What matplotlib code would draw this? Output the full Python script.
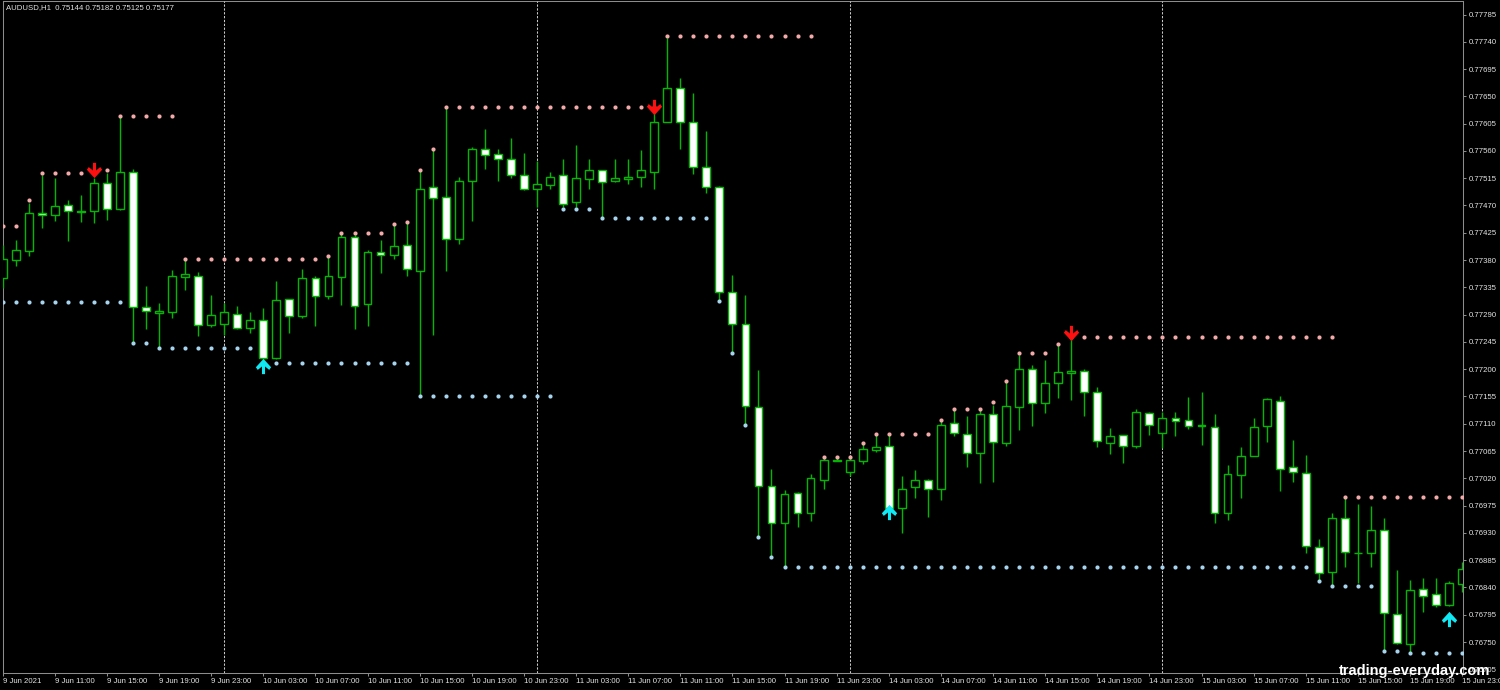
import numpy as np
import matplotlib
matplotlib.use("Agg")
import matplotlib.pyplot as plt
from matplotlib.path import Path

plt.rcParams["font.family"] = ["Liberation Sans", "DejaVu Sans"]

PT = 1e-5  # one MT4 point, prices below are in points

# AUDUSD H1, bar 0 = 9 Jun 07:00
OPEN = [77350, 77380, 77395, 77457, 77455, 77470, 77461, 77461, 77507, 77465,
        77526, 77302, 77293, 77295, 77352, 77354, 77273, 77274, 77291, 77268,
        77281, 77218, 77315, 77287, 77351, 77321, 77352, 77418, 77307, 77393,
        77389, 77405, 77362, 77500, 77484, 77414, 77511, 77564, 77555, 77547,
        77521, 77497, 77504, 77521, 77475, 77513, 77528, 77511, 77513, 77517,
        77526, 77608, 77663, 77608, 77534, 77501, 77327, 77274, 77138, 77007,
        76947, 76995, 76962, 77018, 77049, 77031, 77048, 77066, 77073, 76971,
        77006, 77018, 77002, 77111, 77093, 77061, 77126, 77079, 77138, 77201,
        77145, 77178, 77193, 77197, 77163, 77079, 77091, 77074, 77127, 77094,
        77120, 77117, 77108, 77105, 76963, 77025, 77057, 77106, 77148, 77038,
        77028, 76906, 76866, 76955, 76897, 76897, 76935, 76796, 76746, 76837,
        76829, 76811, 76845]
HIGH = [77405, 77413, 77474, 77520, 77515, 77479, 77488, 77516, 77524, 77616,
        77531, 77338, 77309, 77364, 77381, 77361, 77322, 77309, 77304, 77294,
        77301, 77345, 77316, 77365, 77353, 77387, 77424, 77421, 77396, 77413,
        77441, 77443, 77528, 77565, 77632, 77517, 77567, 77596, 77564, 77582,
        77556, 77543, 77526, 77547, 77569, 77546, 77529, 77546, 77546, 77561,
        77622, 77746, 77681, 77655, 77593, 77502, 77355, 77322, 77199, 77036,
        77001, 76998, 77027, 77054, 77053, 77054, 77078, 77091, 77091, 77023,
        77034, 77019, 77117, 77133, 77122, 77133, 77141, 77179, 77223, 77207,
        77215, 77240, 77253, 77201, 77170, 77103, 77092, 77134, 77130, 77130,
        77130, 77154, 77162, 77126, 77042, 77072, 77119, 77152, 77155, 77083,
        77058, 76920, 76963, 76987, 76978, 76974, 76955, 76868, 76852, 76856,
        76856, 76851, 76882]
LOW = [77334, 77371, 77387, 77433, 77444, 77412, 77442, 77441, 77446, 77463,
       77243, 77266, 77234, 77284, 77331, 77254, 77270, 77256, 77267, 77260,
       77216, 77216, 77260, 77285, 77271, 77315, 77306, 77266, 77272, 77358,
       77381, 77354, 77155, 77256, 77362, 77406, 77445, 77531, 77511, 77516,
       77496, 77468, 77497, 77468, 77468, 77498, 77450, 77508, 77505, 77500,
       77497, 77607, 77563, 77522, 77490, 77314, 77229, 77108, 76923, 76891,
       76874, 76940, 76950, 77002, 77048, 77023, 77043, 77064, 76968, 76930,
       76987, 76956, 76984, 77090, 77038, 77013, 77014, 77074, 77100, 77107,
       77127, 77153, 77149, 77123, 77072, 77060, 77046, 77070, 77091, 77070,
       77090, 77101, 77075, 76947, 76952, 76987, 77056, 77080, 76999, 77014,
       76896, 76853, 76844, 76874, 76848, 76873, 76737, 76747, 76734, 76799,
       76807, 76809, 76833]
CLOSE = [77382, 77396, 77457, 77454, 77469, 77461, 77460, 77507, 77465, 77525,
         77303, 77296, 77296, 77354, 77357, 77273, 77289, 77294, 77268, 77281,
         77218, 77314, 77287, 77350, 77321, 77354, 77418, 77305, 77394, 77388,
         77404, 77366, 77498, 77483, 77414, 77510, 77564, 77553, 77547, 77521,
         77497, 77505, 77517, 77472, 77515, 77528, 77509, 77515, 77517, 77528,
         77608, 77663, 77608, 77533, 77501, 77327, 77274, 77140, 77007, 76946,
         76994, 76963, 77021, 77050, 77050, 77050, 77068, 77072, 76971, 77003,
         77018, 77003, 77108, 77094, 77062, 77126, 77080, 77140, 77200, 77145,
         77178, 77195, 77197, 77162, 77082, 77090, 77073, 77129, 77108, 77119,
         77114, 77106, 77107, 76963, 77027, 77057, 77104, 77150, 77036, 77030,
         76908, 76863, 76955, 76898, 76896, 76934, 76798, 76748, 76835, 76826,
         76811, 76847, 76870]

# resistance / support dots: (first bar, last bar, level)
RES = [(0, 1, 77436), (2, 2, 77479), (3, 7, 77523), (8, 8, 77528), (9, 13, 77618),
       (14, 24, 77382), (25, 25, 77386), (26, 29, 77425), (30, 30, 77439),
       (31, 31, 77443), (32, 32, 77528), (33, 33, 77564), (34, 50, 77632),
       (51, 62, 77750), (63, 65, 77055), (66, 66, 77078), (67, 71, 77093),
       (72, 72, 77117), (73, 75, 77134), (76, 76, 77146), (77, 77, 77180),
       (78, 80, 77226), (81, 81, 77241), (82, 102, 77253), (103, 112, 76990)]
SUP = [(0, 9, 77310), (10, 11, 77244), (12, 19, 77235), (21, 31, 77211),
       (32, 42, 77155), (43, 45, 77465), (46, 54, 77449), (55, 55, 77313),
       (56, 56, 77227), (57, 57, 77108), (58, 58, 76923), (59, 59, 76891),
       (60, 100, 76874), (101, 101, 76851), (102, 105, 76842), (106, 107, 76735),
       (108, 112, 76732)]

SELL_BARS = [7, 50, 82]
SELL_AT = [77528, 77633, 77260]
BUY_BARS = [20, 68, 111]
BUY_AT = [77206, 76964, 76788]

DAY_STARTS = [17, 41, 65, 89]
XLABELS = ["9 Jun 2021", "9 Jun 11:00", "9 Jun 15:00", "9 Jun 19:00", "9 Jun 23:00",
           "10 Jun 03:00", "10 Jun 07:00", "10 Jun 11:00", "10 Jun 15:00", "10 Jun 19:00",
           "10 Jun 23:00", "11 Jun 03:00", "11 Jun 07:00", "11 Jun 11:00", "11 Jun 15:00",
           "11 Jun 19:00", "11 Jun 23:00", "14 Jun 03:00", "14 Jun 07:00", "14 Jun 11:00",
           "14 Jun 15:00", "14 Jun 19:00", "14 Jun 23:00", "15 Jun 03:00", "15 Jun 07:00",
           "15 Jun 11:00", "15 Jun 15:00", "15 Jun 19:00", "15 Jun 23:00"]
YTICKS = [77785 - 45 * k for k in range(25)]
HEADER = "AUDUSD,H1  0.75144 0.75182 0.75125 0.75177"

GREEN = "#00b800"
PINK = "#f4aaaa"
LBLUE = "#a6d4ee"
AXC = "#8c8c8c"
TXT = "#e2e2e2"

W, H = 1500, 690
fig = plt.figure(figsize=(W / 100, H / 100), dpi=100, facecolor="black")
ax = fig.add_axes([2.5 / W, (H - 672.5) / H, 1460 / W, 671.5 / H], facecolor="black")
ax.set_xlim(-0.0153, 112.03)
ax.set_ylim(0.766997, 0.778073)

o = np.array(OPEN) * PT
h = np.array(HIGH) * PT
l = np.array(LOW) * PT
c = np.array(CLOSE) * PT
x = np.arange(len(o))

for d in DAY_STARTS:
    ax.axvline(d, color="#c8c8c8", lw=0.75, ls=(0, (2.2, 1.5)), zorder=1)

ax.vlines(x, l, h, color=GREEN, lw=1.0, zorder=2)
fill = np.where(c > o, "black", "white")
ax.bar(x, c - o, bottom=o, width=0.6, color=fill, edgecolor=GREEN,
       linewidth=1.0, zorder=3)


def dots(levels, color):
    xs, ys = [], []
    for a, b, v in levels:
        for i in range(a, b + 1):
            xs.append(i)
            ys.append(v * PT)
    ax.plot(xs, ys, ls="none", marker="o", ms=3.0, color=color, mec="none", zorder=4)


dots(RES, PINK)
dots(SUP, LBLUE)

down = Path([(-0.2, 1.0), (0.2, 1.0), (0.2, 0.0), (0.75, 0.45), (1.0, 0.1),
             (0.0, -1.0), (-1.0, 0.1), (-0.75, 0.45), (-0.2, 0.0), (-0.2, 1.0)],
            closed=True)
up = Path([(px, -py) for px, py in down.vertices], closed=True)
ax.plot(SELL_BARS, np.array(SELL_AT) * PT, ls="none", marker=down, ms=11,
        color="#ff1010", mec="none", zorder=5)
ax.plot(BUY_BARS, np.array(BUY_AT) * PT, ls="none", marker=up, ms=11,
        color="#10e8f4", mec="none", zorder=5)

for s in ax.spines.values():
    s.set_color(AXC)
    s.set_linewidth(0.75)
    s.set_zorder(0.5)

ax.yaxis.tick_right()
ax.set_yticks(np.array(YTICKS) * PT)
ax.set_yticklabels([f"{v * PT:.5f}" for v in YTICKS])
ax.set_xticks(range(0, 4 * len(XLABELS), 4))
ax.set_xticklabels(XLABELS, ha="left")
ax.tick_params(axis="both", colors=AXC, labelcolor=TXT, labelsize=5.6,
               length=2.5, width=0.75, direction="out")
ax.tick_params(axis="y", pad=2)
ax.tick_params(axis="x", pad=1.5)

fig.text(6 / W, 1 - 7.5 / H, HEADER, color=TXT, fontsize=5.6, va="center")
fig.text(1339 / W, (H - 675) / H, "trading-everyday.com", color="white",
         fontsize=10.5, fontweight="bold", ha="left", va="baseline")

fig.savefig("out.png", dpi=100, facecolor="black")
